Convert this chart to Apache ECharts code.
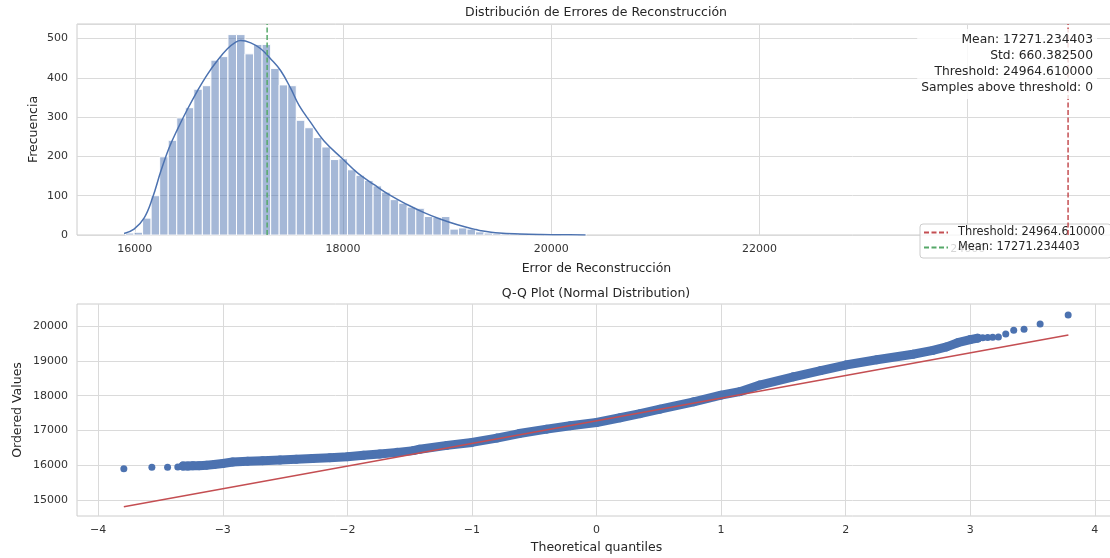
<!DOCTYPE html>
<html>
<head>
<meta charset="utf-8">
<script src="https://cdn.jsdelivr.net/npm/echarts@6/dist/echarts.min.js"></script>
<style>
  html, body { margin: 0; padding: 0; background: #fff; }
  #chart { width: 1110px; height: 558px; }
</style>
</head>
<body>
<div id="chart"></div>
<script>
// --- гистограмма ошибок реконструкции (бины одинаковой ширины)
const binStart = 15911;
const binWidth = 82;
const binCounts = [5, 7, 43, 100, 199, 241, 298, 324, 371, 380, 445, 454, 510, 510, 461, 485, 485, 424, 382, 380,
  292, 273, 248, 224, 192, 194, 166, 152, 139, 125, 109, 90, 81, 71, 68, 47, 45, 47, 15, 18, 15, 8,
  5, 4, 3, 3, 4, 1, 2, 0, 1, 0, 0, 1];

// KDE-кривая поверх гистограммы
const kdeX = [15897, 15993, 16089, 16170, 16250, 16330, 16410, 16506, 16602, 16698, 16794, 16890, 16970, 17018,
  17114, 17210, 17306, 17402, 17498, 17578, 17691, 17818, 17995, 18139, 18299, 18459, 18620, 18779, 18939,
  19100, 19259, 19324, 19500, 19700, 19900, 20100, 20330];
const kdeY = [4, 15, 43, 94, 162, 222, 269, 320, 367, 409, 444, 474, 491, 495,
  489, 474, 448, 418, 373, 330, 286, 239, 194, 158, 128, 100, 77, 57, 40,
  26, 15, 11, 5, 2.5, 1.2, 0.6, 0.3];

const meanValue = 17271.234403;
const thresholdValue = 24964.61;
const statLines = ['Mean: 17271.234403', 'Std: 660.382500', 'Threshold: 24964.610000', 'Samples above threshold: 0'];
const thrName = 'Threshold: 24964.610000';
const meanName = 'Mean: 17271.234403';

const histXTicks = [16000, 18000, 20000, 22000, 24000];

// --- Q-Q plot: плотная полоса точек + отдельные точки хвостов + линия подгонки
const qqBandQ = [-3.32, -3.28, -3.24, -3.19, -3.13, -3.07, -3.00, -2.92, -2.80, -2.68, -2.54, -2.41, -2.28, -2.14,
  -2.00, -1.87, -1.74, -1.60, -1.47, -1.42, -1.20, -1.00, -0.80, -0.62, -0.40, -0.21, 0.00, 0.19, 0.35, 0.51,
  0.78, 1.00, 1.15, 1.31, 1.58, 1.80, 2.00, 2.25, 2.54, 2.70, 2.81, 2.90, 3.00, 3.06];
const qqBandV = [15982, 15985, 15988, 15994, 16008, 16025, 16055, 16100, 16122, 16137, 16157, 16177, 16200, 16223,
  16252, 16290, 16329, 16375, 16425, 16465, 16575, 16660, 16785, 16915, 17040, 17140, 17232, 17368, 17485, 17615,
  17825, 18015, 18116, 18305, 18543, 18720, 18880, 19030, 19190, 19300, 19400, 19520, 19610, 19650];
const qqTailQ = [-3.794, -3.569, -3.443, -3.361, -3.293, 3.10, 3.14, 3.18, 3.226, 3.285, 3.349, 3.432, 3.561, 3.786];
const qqTailV = [15905, 15950, 15950, 15952, 15970, 19665, 19672, 19680, 19685, 19771, 19877, 19905, 20057, 20315];
const qqFitQ = [-3.794, 3.788];
const qqFitV = [14818, 19742];

const qqXTicks = [-4, -3, -2, -1, 0, 1, 2, 3, 4];
const qqYTicks = [15000, 16000, 17000, 18000, 19000, 20000];

const HIST_Y_MAX = 537;
const BLUE = '#4c72b0', RED = '#c44e52', GREEN = '#55a868';
const TXT = '#262626', GRID = '#dadada';
const FONT = '"DejaVu Sans", sans-serif';

const zip = (a, b) => a.map((v, i) => [v, b[i]]);
const plain = (v) => (v < 0 ? '\u2212' + Math.abs(v) : String(v));

const bins = binCounts.map((c, i) => [binStart + i * binWidth, binStart + (i + 1) * binWidth, c]);

function label(extra) {
  return Object.assign({ color: '#333', fontSize: 11, margin: 9, fontFamily: FONT, formatter: plain }, extra);
}

function axisBase(extra) {
  return Object.assign({
    type: 'value',
    axisLine: { show: false },
    axisTick: { show: false },
    splitLine: { show: true, lineStyle: { color: GRID, width: 1 } },
    nameLocation: 'middle',
    nameMoveOverlap: false,
    nameTextStyle: { color: TXT, fontSize: 12.5, fontFamily: FONT },
  }, extra);
}

const gridBase = { show: true, borderColor: '#cccccc', borderWidth: 1, outerBoundsMode: 'none', containLabel: false };

const chart = echarts.init(document.getElementById('chart'));
chart.setOption({
  animation: false,
  backgroundColor: '#fff',
  textStyle: { fontFamily: FONT },
  title: [
    { text: 'Distribución de Errores de Reconstrucción', left: 596, top: 6, textAlign: 'center', padding: 0,
      textStyle: { fontSize: 12.5, fontWeight: 'normal', color: TXT, fontFamily: FONT } },
    { text: 'Q-Q Plot (Normal Distribution)', left: 596, top: 287, textAlign: 'center', padding: 0,
      textStyle: { fontSize: 12.5, fontWeight: 'normal', color: TXT, fontFamily: FONT } },
  ],
  grid: [
    Object.assign({ left: 77, top: 24, width: 1039, height: 211 }, gridBase),
    Object.assign({ left: 77, top: 304, width: 1039, height: 212 }, gridBase),
  ],
  xAxis: [
    axisBase({ gridIndex: 0, min: 15445, max: 25425, name: 'Error de Reconstrucción', nameGap: 27,
      axisTick: { show: false, customValues: histXTicks },
      axisLabel: label({ customValues: histXTicks }) }),
    axisBase({ gridIndex: 1, min: -4.17, max: 4.17, name: 'Theoretical quantiles', nameGap: 25,
      axisTick: { show: false, customValues: qqXTicks },
      axisLabel: label({ customValues: qqXTicks }) }),
  ],
  yAxis: [
    axisBase({ gridIndex: 0, min: 0, max: HIST_Y_MAX, interval: 100, name: 'Frecuencia', nameGap: 37,
      axisLabel: label({ showMaxLabel: false }) }),
    axisBase({ gridIndex: 1, min: 14550, max: 20630, name: 'Ordered Values', nameGap: 53,
      axisTick: { show: false, customValues: qqYTicks },
      axisLabel: label({ customValues: qqYTicks }) }),
  ],
  legend: {
    data: [
      { name: thrName, lineStyle: { type: [5, 2.5] } },
      { name: meanName, lineStyle: { type: [5, 2.5] } },
    ],
    orient: 'vertical', left: 920, top: 224,
    itemWidth: 24, itemHeight: 12, itemGap: 4,
    itemStyle: { opacity: 0 },
    padding: [3, 6, 5, 3],
    backgroundColor: 'rgba(255,255,255,0.8)', borderColor: '#cccccc', borderWidth: 1, borderRadius: 3,
    textStyle: { color: TXT, fontSize: 11.4, fontFamily: FONT, padding: [0, 0, 0, 5] },
    selectedMode: false,
  },
  graphic: [{
    type: 'text', right: 13, top: 29, z: 100,
    style: {
      text: statLines.join('\n'), align: 'right', textAlign: 'right', fill: TXT,
      fontSize: 12.3, fontFamily: FONT, lineHeight: 16,
      backgroundColor: 'rgba(255,255,255,0.8)', padding: [3, 4, 3, 4], borderRadius: 3,
    },
  }],
  series: [
    {
      type: 'custom', xAxisIndex: 0, yAxisIndex: 0, data: bins,
      encode: { x: [0, 1], y: 2 },
      renderItem: (params, api) => {
        const p0 = api.coord([api.value(0), api.value(2)]);
        const p1 = api.coord([api.value(1), 0]);
        return {
          type: 'rect',
          shape: { x: p0[0], y: p0[1], width: p1[0] - p0[0], height: p1[1] - p0[1] },
          style: { fill: 'rgba(76,114,176,0.5)', stroke: '#ffffff', lineWidth: 1 },
        };
      },
    },
    {
      type: 'line', xAxisIndex: 0, yAxisIndex: 0, data: zip(kdeX, kdeY), smooth: 0.4,
      symbol: 'none', lineStyle: { color: BLUE, width: 1.5 }, z: 3,
    },
    {
      name: thrName, type: 'line', xAxisIndex: 0, yAxisIndex: 0,
      data: [[thresholdValue, 0], [thresholdValue, HIST_Y_MAX]], symbol: 'none',
      itemStyle: { color: RED }, lineStyle: { color: RED, width: 1.5, type: [5, 2.5] }, z: 4,
    },
    {
      name: meanName, type: 'line', xAxisIndex: 0, yAxisIndex: 0,
      data: [[meanValue, 0], [meanValue, HIST_Y_MAX]], symbol: 'none',
      itemStyle: { color: GREEN }, lineStyle: { color: GREEN, width: 1.5, type: [5, 2.5] }, z: 4,
    },
    {
      type: 'line', xAxisIndex: 1, yAxisIndex: 1, data: zip(qqBandQ, qqBandV),
      symbol: 'circle', symbolSize: 9, showAllSymbol: true,
      itemStyle: { color: BLUE }, lineStyle: { color: BLUE, width: 9, cap: 'round', join: 'round' }, z: 2,
    },
    {
      type: 'scatter', xAxisIndex: 1, yAxisIndex: 1, data: zip(qqTailQ, qqTailV),
      symbolSize: 7, itemStyle: { color: BLUE, opacity: 1 }, z: 2,
    },
    {
      type: 'line', xAxisIndex: 1, yAxisIndex: 1, data: zip(qqFitQ, qqFitV), symbol: 'none',
      lineStyle: { color: RED, width: 1.5 }, z: 5,
    },
  ],
});
</script>
</body>
</html>
